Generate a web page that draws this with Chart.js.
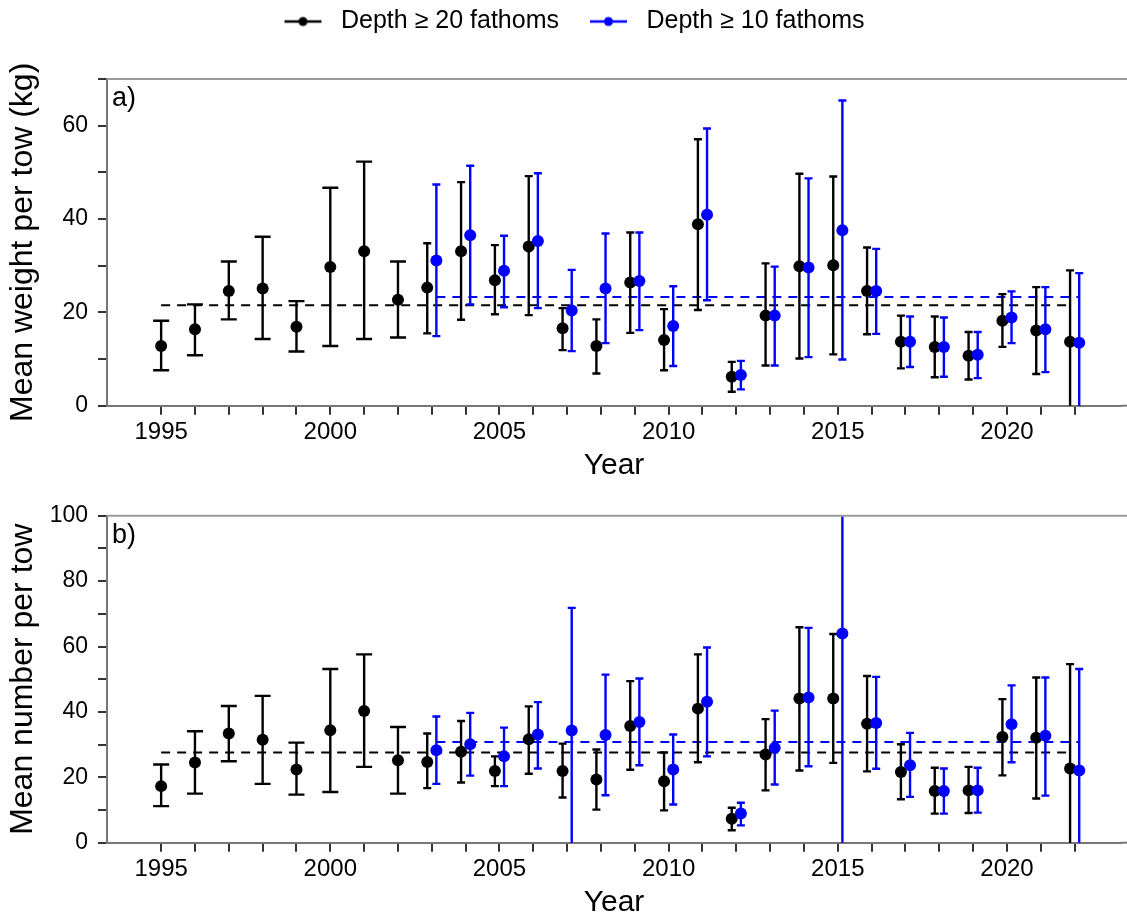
<!DOCTYPE html>
<html>
<head>
<meta charset="utf-8">
<script src="https://cdn.jsdelivr.net/npm/chart.js@4/dist/chart.umd.min.js"></script>
<style>
  html, body { margin: 0; padding: 0; background: #fff; overflow: hidden; }
  #wrap { position: relative; width: 1127px; height: 920px; }
  canvas { position: absolute; left: 0; }
  #chartA { top: 0; }
  #chartB { top: 490px; }
</style>
</head>
<body>
<div id="wrap">
  <canvas id="chartA" width="1127" height="490"></canvas>
  <canvas id="chartB" width="1127" height="437"></canvas>
</div>
<script>
// ---- data ----
const years20 = [1995, 1996, 1997, 1998, 1999, 2000, 2001, 2002, 2003, 2004, 2005, 2006, 2007, 2008,
                 2009, 2010, 2011, 2012, 2013, 2014, 2015, 2016, 2017, 2018, 2019, 2020, 2021, 2022];
const years10 = [2003, 2004, 2005, 2006, 2007, 2008, 2009, 2010, 2011, 2012,
                 2013, 2014, 2015, 2016, 2017, 2018, 2019, 2020, 2021, 2022];

// a) mean weight per tow (kg)
const weight20   = [12.8, 16.4, 24.6, 25.1, 16.9, 29.7, 33.1, 22.7, 25.3, 33.1, 26.9, 34.1, 16.6, 12.8,
                    26.4, 14.1, 38.9, 6.2, 19.3, 29.9, 30.1, 24.6, 13.7, 12.6, 10.7, 18.2, 16.1, 13.7];
const weight20Lo = [7.6, 10.8, 18.5, 14.3, 11.6, 12.8, 14.3, 14.6, 15.5, 18.4, 19.6, 19.4, 11.9, 6.9,
                    15.6, 7.6, 20.5, 3.0, 8.6, 10.1, 11.0, 15.3, 8.0, 6.1, 5.6, 12.6, 6.8, -2];
const weight20Hi = [18.2, 21.7, 30.9, 36.2, 22.4, 46.7, 52.3, 30.9, 34.8, 47.9, 34.4, 49.2, 20.9, 18.5,
                    37.1, 20.7, 57.1, 9.4, 30.5, 49.7, 49.1, 33.9, 19.3, 19.1, 15.8, 23.9, 25.4, 29.0];
const weight10   = [31.1, 36.5, 28.9, 35.3, 20.4, 25.1, 26.7, 17.1, 40.9, 6.6,
                    19.3, 29.6, 37.6, 24.6, 13.7, 12.6, 10.9, 18.9, 16.4, 13.5];
const weight10Lo = [14.9, 21.7, 21.1, 20.9, 11.7, 13.4, 16.2, 8.5, 22.6, 3.5,
                    8.6, 10.4, 9.9, 15.4, 8.3, 6.2, 5.9, 13.4, 7.2, -2];
const weight10Hi = [47.4, 51.4, 36.4, 49.8, 29.1, 36.9, 37.1, 25.6, 59.4, 9.6,
                    29.8, 48.7, 65.4, 33.6, 19.1, 18.9, 15.8, 24.5, 25.4, 28.4];
const weightMean20 = 21.5;
const weightMean10 = 23.3;

// b) mean number per tow
const number20   = [17.3, 24.5, 33.4, 31.5, 22.4, 34.4, 40.3, 25.2, 24.7, 27.8, 21.9, 31.6, 21.9, 19.3,
                    35.7, 18.8, 41.0, 7.3, 27.0, 44.1, 44.1, 36.4, 21.6, 15.8, 16.0, 32.3, 32.1, 22.7];
const number20Lo = [11.2, 15.0, 24.9, 18.0, 14.7, 15.5, 23.2, 15.0, 16.7, 18.4, 17.3, 21.1, 13.8, 10.1,
                    22.3, 9.9, 24.6, 3.8, 16.0, 22.1, 24.4, 21.8, 13.3, 8.9, 9.1, 20.6, 13.5, -3];
const number20Hi = [23.9, 34.1, 41.8, 44.9, 30.6, 53.1, 57.6, 35.4, 33.4, 37.2, 26.4, 41.7, 30.3, 28.5,
                    49.4, 27.6, 57.6, 10.7, 37.8, 65.9, 63.8, 51.0, 30.1, 22.9, 23.2, 43.9, 50.5, 54.6];
const number10   = [28.3, 30.1, 26.4, 33.1, 34.3, 32.9, 36.9, 22.4, 43.1, 8.9,
                    29.0, 44.4, 64.0, 36.6, 23.7, 15.8, 16.0, 36.2, 32.7, 22.1];
const number10Lo = [18.0, 20.5, 17.3, 22.7, -3, 14.5, 23.7, 11.7, 26.4, 5.3,
                    17.8, 23.4, -3, 22.6, 14.0, 8.9, 9.2, 24.6, 14.4, -3];
const number10Hi = [38.6, 39.7, 35.2, 43.0, 71.8, 51.4, 50.2, 33.1, 59.7, 12.2,
                    40.4, 65.7, 105, 50.7, 33.6, 22.7, 22.9, 48.1, 50.5, 53.1];
const numberMean20 = 27.6;
const numberMean10 = 30.8;

// axes
const yearLabels = [1995, 2000, 2005, 2010, 2015, 2020];
const yTicksA = [0, 10, 20, 30, 40, 50, 60, 70];
const yLabelsA = [0, 20, 40, 60];
const yTicksB = [0, 10, 20, 30, 40, 50, 60, 70, 80, 90, 100];
const yLabelsB = [0, 20, 40, 60, 80, 100];
const seriesNames = ["Depth \u2265 20 fathoms", "Depth \u2265 10 fathoms"];
const seriesColors = ["#000000", "#0000ff"];

// ---- layout constants ----
const FONT = '"Liberation Sans", Arial, sans-serif';
const X_MIN = 1993.4, X_MAX = 2023.37;
const DODGE = 0.135;
Chart.defaults.font.family = FONT;

const shared = yr => years10.includes(yr) && years20.includes(yr);
const toPoints = (yrs, vals, shift) => yrs.map((yr, i) => ({ x: yr + (shared(yr) ? shift : 0), y: vals[i] }));

// error bars drawn under each point dataset
const errorBars = {
  id: "errorBars",
  beforeDatasetDraw(chart, args) {
    const ds = chart.data.datasets[args.index];
    if (!ds.errLo) return;
    const { ctx, chartArea: a, scales: { y } } = chart;
    ctx.save();
    ctx.beginPath();
    ctx.rect(a.left, a.top, a.width, a.height);
    ctx.clip();
    ctx.strokeStyle = ds.backgroundColor;
    ctx.lineWidth = 2.4;
    args.meta.data.forEach((pt, i) => {
      const lo = y.getPixelForValue(ds.errLo[i]);
      const hi = y.getPixelForValue(ds.errHi[i]);
      const cap = shared(ds.years[i]) ? 4 : 8;
      ctx.beginPath();
      ctx.moveTo(pt.x, lo); ctx.lineTo(pt.x, hi);
      ctx.moveTo(pt.x - cap, lo); ctx.lineTo(pt.x + cap, lo);
      ctx.moveTo(pt.x - cap, hi); ctx.lineTo(pt.x + cap, hi);
      ctx.stroke();
    });
    ctx.restore();
  }
};

// top border line, axis line run to the edge, panel letter
const frame = {
  id: "frame",
  afterDraw(chart, args, opts) {
    const { ctx, chartArea: a } = chart;
    ctx.save();
    ctx.lineWidth = 2;
    ctx.strokeStyle = "#9a9a9a";
    ctx.beginPath();
    ctx.moveTo(a.left, a.top);
    ctx.lineTo(chart.width, a.top);
    ctx.stroke();
    ctx.strokeStyle = "#777";
    ctx.beginPath();
    ctx.moveTo(a.right, a.bottom);
    ctx.lineTo(chart.width, a.bottom);
    ctx.stroke();
    ctx.fillStyle = "#000";
    ctx.font = "27px " + FONT;
    ctx.textBaseline = "alphabetic";
    ctx.fillText(opts.label, a.left + 5, a.top + 27);
    ctx.restore();
  }
};

// keep the legend box tall enough so the plot starts where it does in the figure
const legendSpace = {
  id: "legendSpace",
  afterInit(chart, args, opts) {
    const legend = chart.legend;
    if (!legend || !opts.height) return;
    const fit = legend.fit;
    legend.fit = function () { fit.call(this); this.height = opts.height; };
  }
};

function legendIcon(color) {
  const c = document.createElement("canvas");
  c.width = 66; c.height = 14;
  const g = c.getContext("2d");
  g.strokeStyle = color; g.lineWidth = 2.6;
  g.beginPath(); g.moveTo(22, 7); g.lineTo(59, 7); g.stroke();
  g.fillStyle = color;
  g.beginPath(); g.arc(40.5, 7, 4.5, 0, Math.PI * 2); g.fill();
  return c;
}

function buildDatasets(v20, lo20, hi20, v10, lo10, hi10, mean20, mean10) {
  const p20 = toPoints(years20, v20, -DODGE);
  const p10 = toPoints(years10, v10, DODGE);
  const dashed = (pts, mean, color) => ({
    type: "scatter", showLine: true, order: 3,
    data: [{ x: pts[0].x, y: mean }, { x: pts[pts.length - 1].x, y: mean }],
    borderColor: color, borderWidth: 2, borderDash: [9, 7], pointRadius: 0, pointHoverRadius: 0
  });
  return [
    dashed(p20, mean20, seriesColors[0]),
    dashed(p10, mean10, seriesColors[1]),
    { label: seriesNames[0], data: p20, years: years20, errLo: lo20, errHi: hi20, order: 2,
      backgroundColor: seriesColors[0], borderWidth: 0, pointRadius: 6, pointHoverRadius: 6 },
    { label: seriesNames[1], data: p10, years: years10, errLo: lo10, errHi: hi10, order: 1,
      backgroundColor: seriesColors[1], borderWidth: 0, pointRadius: 6, pointHoverRadius: 6 }
  ];
}

function buildScales(yMax, yTicks, yLabels, yTitle) {
  return {
    x: {
      type: "linear", min: X_MIN, max: X_MAX,
      afterBuildTicks: s => { s.ticks = years20.map(v => ({ value: v })); },
      afterFit: s => { s.height = 84.3; },
      ticks: { autoSkip: false, maxRotation: 0, padding: 3, color: "#000", font: { size: 24 },
               callback: v => yearLabels.includes(v) ? String(v) : "" },
      grid: { drawOnChartArea: false, drawTicks: true, tickLength: 9, color: "#333", lineWidth: 2 },
      border: { display: true, color: "#777", width: 2 },
      title: { display: true, text: "Year", color: "#000", font: { size: 30 }, padding: { top: 0, bottom: 6 } }
    },
    y: {
      min: 0, max: yMax,
      afterBuildTicks: s => { s.ticks = yTicks.map(v => ({ value: v })); },
      afterFit: s => { s.width = 107; },
      ticks: { autoSkip: false, padding: 10, color: "#000", font: { size: 23 },
               callback: v => yLabels.includes(v) ? String(v) : "" },
      grid: { drawOnChartArea: false, drawTicks: true, tickLength: 9, color: "#333", lineWidth: 2 },
      border: { display: true, color: "#777", width: 2 },
      title: { display: true, text: yTitle, color: "#000", font: { size: 32 }, padding: { top: 4, bottom: 0 } }
    }
  };
}

// panel a
new Chart(document.getElementById("chartA"), {
  type: "scatter",
  data: { datasets: buildDatasets(weight20, weight20Lo, weight20Hi, weight10, weight10Lo, weight10Hi, weightMean20, weightMean10) },
  options: {
    responsive: false, animation: false, devicePixelRatio: 1,
    layout: { padding: 0 },
    scales: buildScales(70, yTicksA, yLabelsA, "Mean weight per tow (kg)"),
    plugins: {
      tooltip: { enabled: false },
      frame: { label: "a)" },
      legendSpace: { height: 79 },
      legend: {
        display: true, position: "top",
        labels: {
          usePointStyle: true, pointStyleWidth: 66, padding: 9, color: "#000", font: { size: 25 },
          generateLabels: () => seriesNames.map((t, i) => ({
            text: t, pointStyle: legendIcon(seriesColors[i]), fontColor: "#000", hidden: false,
            datasetIndex: i + 2, fillStyle: seriesColors[i], strokeStyle: seriesColors[i], lineWidth: 0
          }))
        }
      }
    }
  },
  plugins: [errorBars, frame, legendSpace]
});

// panel b
new Chart(document.getElementById("chartB"), {
  type: "scatter",
  data: { datasets: buildDatasets(number20, number20Lo, number20Hi, number10, number10Lo, number10Hi, numberMean20, numberMean10) },
  options: {
    responsive: false, animation: false, devicePixelRatio: 1,
    layout: { padding: { top: 25.7, left: 0, right: 0, bottom: 0 } },
    scales: buildScales(100, yTicksB, yLabelsB, "Mean number per tow"),
    plugins: {
      tooltip: { enabled: false },
      legend: { display: false },
      frame: { label: "b)" }
    }
  },
  plugins: [errorBars, frame]
});
</script>
</body>
</html>
